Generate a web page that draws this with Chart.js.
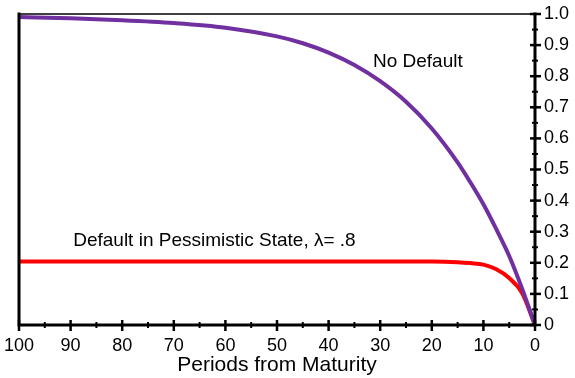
<!DOCTYPE html>
<html>
<head>
<meta charset="utf-8">
<script src="https://cdn.jsdelivr.net/npm/chart.js@4"></script>
<style>
  html, body { margin: 0; padding: 0; background: #fff; }
</style>
</head>
<body>
<canvas id="maturity-chart" width="575" height="378"></canvas>
<script>
// Periods from maturity (x values)
let periods = [100, 90, 80, 70, 60, 50, 45, 40, 35, 30, 25, 20, 15, 12.5, 10, 7.5, 5, 2.5, 0];

// Bond price, no default
let noDefault = [0.990, 0.986, 0.980, 0.971, 0.956, 0.928, 0.906, 0.876, 0.836, 0.784, 0.718,
    0.632, 0.523, 0.458, 0.388, 0.308, 0.222, 0.117, 0
];

// Bond price, default in pessimistic state (lambda = .8)
let pessimistic = [0.204, 0.204, 0.204, 0.204, 0.204, 0.204, 0.204, 0.204, 0.204, 0.204, 0.204,
    0.204, 0.202, 0.199, 0.194, 0.179, 0.151, 0.103, 0
];

// Text written inside the plot
let lineLabels = ['No Default', 'Default in Pessimistic State, \u03bb= .8'];

const fontFamily = '"Liberation Sans", Arial, Helvetica, sans-serif';

// Frame, thick axis lines and the tick marks that cross them
const framePlugin = {
    id: 'frame',
    afterDraw(chart) {
        const { ctx, chartArea: a, scales: { x, y } } = chart;
        ctx.save();
        ctx.strokeStyle = '#000';
        ctx.lineCap = 'square';

        ctx.lineWidth = 1.5;
        ctx.beginPath();
        ctx.moveTo(a.left, a.top);
        ctx.lineTo(a.right, a.top);
        ctx.stroke();

        ctx.lineWidth = 3;
        ctx.beginPath();
        ctx.moveTo(a.left, a.top);
        ctx.lineTo(a.left, a.bottom);
        ctx.lineTo(a.right, a.bottom);
        ctx.lineTo(a.right, a.top);
        ctx.stroke();

        ctx.lineCap = 'butt';
        // x ticks: major on each label, minor half way
        const xt = x.ticks.map(t => t.value);
        xt.forEach((v, i) => {
            const px = x.getPixelForValue(v);
            ctx.lineWidth = 2.5;
            ctx.beginPath();
            ctx.moveTo(px, a.bottom - 5);
            ctx.lineTo(px, a.bottom + 6);
            ctx.stroke();
            if (i < xt.length - 1) {
                const mx = x.getPixelForValue((v + xt[i + 1]) / 2);
                ctx.lineWidth = 2;
                ctx.beginPath();
                ctx.moveTo(mx, a.bottom - 3);
                ctx.lineTo(mx, a.bottom + 3);
                ctx.stroke();
            }
        });

        const yt = y.ticks.map(t => t.value);
        yt.forEach((v, i) => {
            const py = y.getPixelForValue(v);
            ctx.lineWidth = 2.5;
            ctx.beginPath();
            ctx.moveTo(a.right - 5, py);
            ctx.lineTo(a.right + 6, py);
            ctx.stroke();
            if (i < yt.length - 1) {
                const my = y.getPixelForValue((v + yt[i + 1]) / 2);
                ctx.lineWidth = 2;
                ctx.beginPath();
                ctx.moveTo(a.right - 3, my);
                ctx.lineTo(a.right + 3, my);
                ctx.stroke();
            }
        });
        ctx.restore();
    }
};

// Labels next to the curves, placed in data units
const labelPlugin = {
    id: 'lineLabels',
    afterDatasetsDraw(chart) {
        const { ctx, scales: { x, y } } = chart;
        ctx.save();
        ctx.fillStyle = '#000';
        ctx.font = '19px ' + fontFamily;
        ctx.textAlign = 'left';
        ctx.textBaseline = 'middle';
        ctx.fillText(lineLabels[0], x.getPixelForValue(31.4), y.getPixelForValue(0.846));
        ctx.fillText(lineLabels[1], x.getPixelForValue(89.5), y.getPixelForValue(0.272));
        ctx.restore();
    }
};

let maturityChart = new Chart(document.getElementById('maturity-chart'), {
    type: 'line',
    data: {
        labels: periods,
        datasets: [
            {
                label: lineLabels[0],
                data: periods.map((p, i) => ({ x: p, y: noDefault[i] })),
                borderColor: '#7030A0',
                borderWidth: 4,
                pointRadius: 0,
                cubicInterpolationMode: 'monotone'
            },
            {
                label: lineLabels[1],
                data: periods.map((p, i) => ({ x: p, y: pessimistic[i] })),
                borderColor: '#FF0000',
                borderWidth: 4,
                pointRadius: 0,
                cubicInterpolationMode: 'monotone'
            }
        ]
    },
    options: {
        responsive: false,
        animation: false,
        layout: { padding: { left: 19, top: 14, right: 0, bottom: 0 } },
        plugins: {
            legend: { display: false },
            tooltip: { enabled: false }
        },
        scales: {
            x: {
                type: 'linear',
                reverse: true,
                min: 0,
                max: 100,
                grid: { display: false, drawTicks: false },
                border: { display: false },
                ticks: {
                    stepSize: 10,
                    padding: 10,
                    color: '#000',
                    maxRotation: 0,
                    font: { family: fontFamily, size: 18 }
                },
                title: {
                    display: true,
                    text: 'Periods from Maturity',
                    color: '#000',
                    padding: { top: 0, bottom: 0 },
                    font: { family: fontFamily, size: 21 }
                },
                afterFit: scale => {
                    scale.height = 53;
                    scale.paddingLeft = 0;
                    scale.paddingRight = 0;
                }
            },
            y: {
                position: 'right',
                min: 0,
                max: 1,
                grid: { display: false, drawTicks: false },
                border: { display: false },
                ticks: {
                    stepSize: 0.1,
                    padding: 9,
                    color: '#000',
                    font: { family: fontFamily, size: 18 },
                    callback: v => v === 0 ? '0' : v.toFixed(1)
                },
                afterFit: scale => {
                    scale.width = 40;
                    scale.paddingTop = 0;
                    scale.paddingBottom = 0;
                }
            }
        }
    },
    plugins: [framePlugin, labelPlugin]
});
</script>
</body>
</html>
